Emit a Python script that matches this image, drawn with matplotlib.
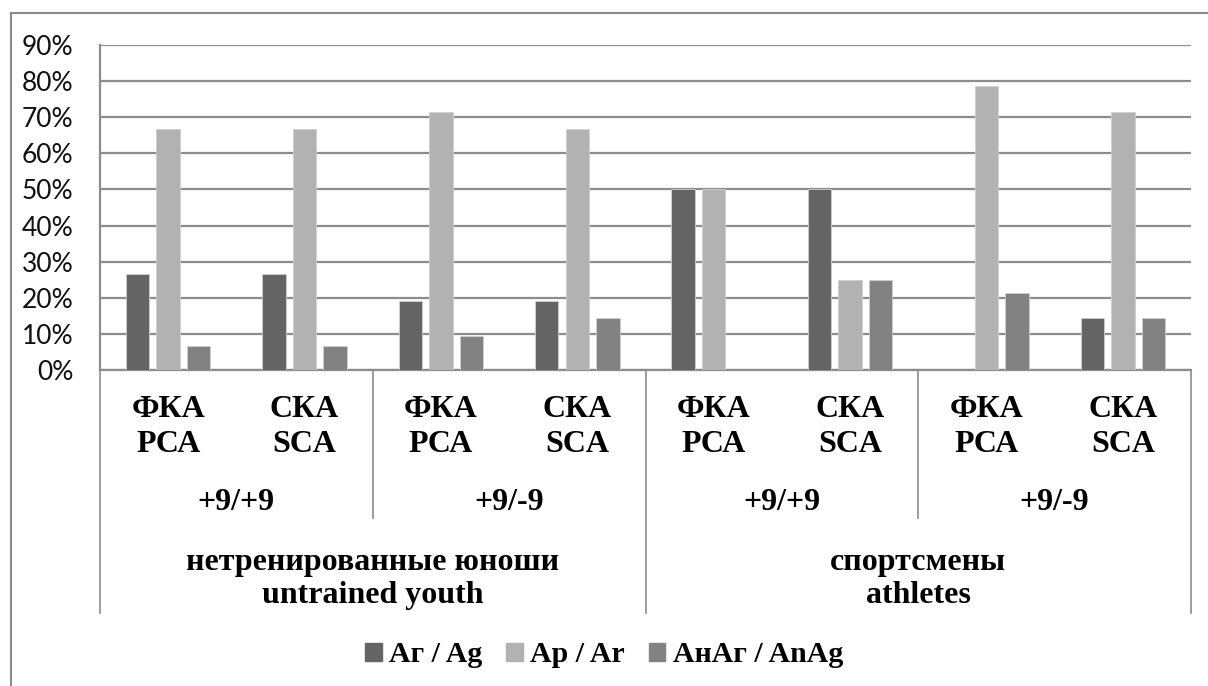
import numpy as np
import matplotlib
matplotlib.use('Agg')
from matplotlib import pyplot as plt
from matplotlib.patches import Rectangle, Patch
from matplotlib.ticker import FuncFormatter

# data (percent)
methods = ['ФКА\nРСА', 'СКА\nSCA'] * 4
tests = ['+9/+9', '+9/-9', '+9/+9', '+9/-9']
groups = ['нетренированные юноши\nuntrained youth', 'спортсмены\nathletes']
series = ['Аг / Ag', 'Ар / Ar', 'АнАг / AnAg']
ag = [26.7, 26.7, 19.0, 19.0, 50.0, 50.0, 0.0, 14.3]
ar = [66.7, 66.7, 71.4, 66.7, 50.0, 25.0, 78.6, 71.4]
anag = [6.7, 6.7, 9.5, 14.3, 0.0, 25.0, 21.4, 14.3]
colors = ['#646464', '#b2b2b2', '#828282']

W, H = 1208, 686
fig = plt.figure(figsize=(W / 100, H / 100), dpi=100)
# outer frame of the chart area, only left/top visible
fig.patches.append(Rectangle((11 / W, -0.05), 1.2, (H - 13) / H + 0.05, transform=fig.transFigure,
                             fill=False, edgecolor='#8a8a8a', linewidth=1.5))

ax = fig.add_axes([100 / W, (H - 370) / H, 1091 / W, 325 / H])
x = np.arange(len(ag))
bw = 0.172
step = 0.224
for i, vals in enumerate([ag, ar, anag]):
    ax.bar(x + (i - 1) * step, vals, width=bw, color=colors[i], edgecolor='#d0d0d0',
           linewidth=0.6, zorder=3, label=series[i])

ax.set_ylim(0, 90)
ax.set_xlim(-0.5, 7.5)
ax.set_yticks(np.arange(0, 91, 10))
ax.yaxis.set_major_formatter(FuncFormatter(lambda v, p: '%d%%' % v))
ax.yaxis.grid(True, color='#8c8c8c', linewidth=1.6, zorder=0)
ax.set_xticks([])
ax.tick_params(axis='y', length=0, pad=19, labelsize=19, labelcolor='#111111')
for lab in ax.get_yticklabels():
    lab.set_family(['Lato', 'DejaVu Sans'])
for s in ['top', 'right']:
    ax.spines[s].set_visible(False)
ax.spines['left'].set_color('#8c8c8c')
ax.spines['left'].set_linewidth(1.6)
ax.spines['bottom'].set_color('#8c8c8c')
ax.spines['bottom'].set_linewidth(1.6)

tr = ax.get_xaxis_transform()
def ay(py):
    return (370 - py) / 325.0

serif = dict(family='Liberation Serif', fontweight='bold', fontsize=23, color='black')
for i, m in enumerate(methods):
    ax.text(x[i], ay(427), m, transform=tr, ha='center', va='center', linespacing=1.25, **serif)
for j, t in enumerate(tests):
    ax.text(2 * j + 0.5, ay(503), t, transform=tr, ha='center', va='center', **serif)
for k, g in enumerate(groups):
    ax.text(4 * k + 1.5, ay(579), g, transform=tr, ha='center', va='center', linespacing=1.15, **serif)

# category separators below the axis
for xs in [1.5, 5.5]:
    ax.plot([xs, xs], [0, ay(518)], transform=tr, color='#8c8c8c', linewidth=1.2, clip_on=False)
for xs in [-0.5, 3.5, 7.5]:
    ax.plot([xs, xs], [0, ay(613)], transform=tr, color='#8c8c8c', linewidth=1.2, clip_on=False)

handles = [Patch(color=c) for c in colors]
fig.legend(handles, series, loc='center', bbox_to_anchor=(604 / W, (H - 655) / H), ncol=3,
           frameon=False, prop={'family': 'Liberation Serif', 'weight': 'bold', 'size': 21.5},
           handlelength=0.55, handleheight=0.55, handletextpad=0.25, columnspacing=0.8)

fig.savefig('out.png', dpi=100)
